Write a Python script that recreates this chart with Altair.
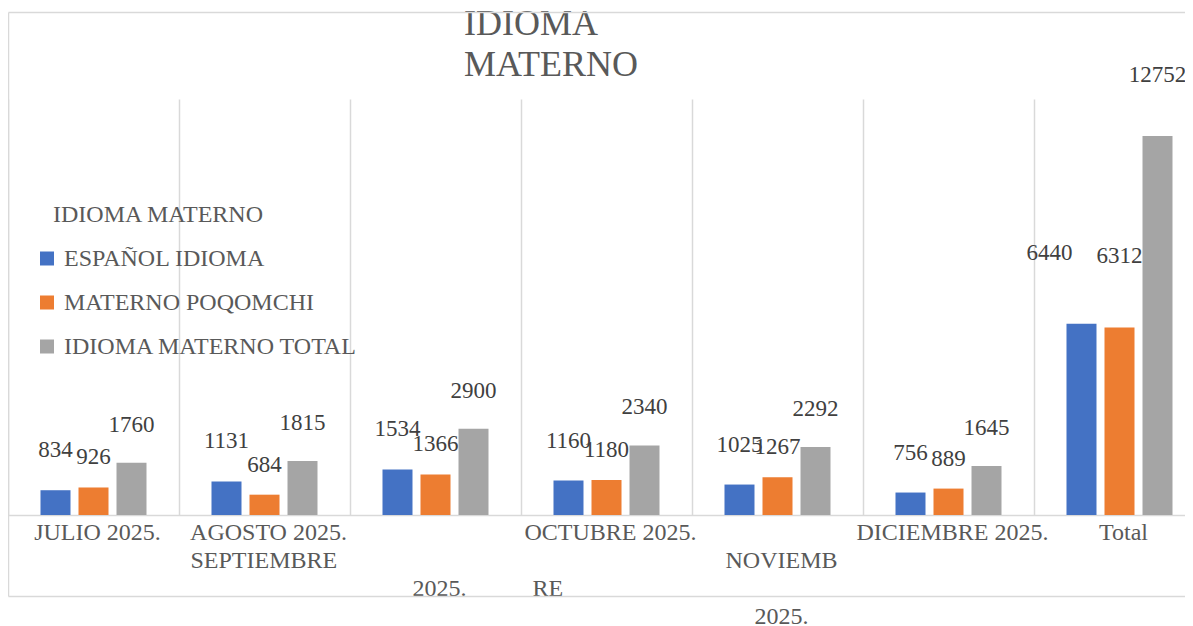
import altair as alt
import pandas as pd

# ---- data ----
categories = ["JULIO 2025.", "AGOSTO 2025.", "SEPTIEMBRE 2025.", "OCTUBRE 2025.",
              "NOVIEMBRE 2025.", "DICIEMBRE 2025.", "Total"]
series = ["ESPAÑOL IDIOMA", "MATERNO POQOMCHI", "IDIOMA MATERNO TOTAL"]
espanol = [834, 1131, 1534, 1160, 1025, 756, 6440]
poqomchi = [926, 684, 1366, 1180, 1267, 889, 6312]
total = [1760, 1815, 2900, 2340, 2292, 1645, 12752]
colors = ["#4472C4", "#ED7D31", "#A5A5A5"]

# category labels as they wrap in the original: fragment, its category, wrapped line, alignment
frag_category = ["JULIO 2025.", "AGOSTO 2025.", "AGOSTO 2025.", "SEPTIEMBRE 2025.",
                 "OCTUBRE 2025.", "OCTUBRE 2025.", "NOVIEMBRE 2025.", "NOVIEMBRE 2025.",
                 "DICIEMBRE 2025.", "Total"]
frag_text = ["JULIO 2025.", "AGOSTO 2025.", "SEPTIEMBRE", "2025.",
             "OCTUBRE 2025.", "RE", "NOVIEMB", "2025.",
             "DICIEMBRE 2025.", "Total"]
frag_line = [0, 0, 1, 2, 0, 2, 1, 3, 0, 0]
frag_align = ["center", "center", "left", "center", "center", "left", "center", "center",
              "center", "center"]

rows = []
for s, vals in zip(series, [espanol, poqomchi, total]):
    for c, v in zip(categories, vals):
        rows.append({"category": c, "serie": s, "value": v})
df = pd.DataFrame(rows)
frags = pd.DataFrame({"category": frag_category, "text": frag_text,
                      "line": frag_line, "align": frag_align})

FONT = "Liberation Serif"
W, H = 1177, 416          # visible plot area
XR = 1197                 # 7 bands of 171 px (the last one runs off the page, as in the original)

x = alt.X("category:N", sort=categories,
          scale=alt.Scale(range=[0, XR], paddingInner=0, paddingOuter=0),
          axis=alt.Axis(title=None, labels=False, ticks=False, grid=True, bandPosition=0,
                        gridColor="#d9d9d9", gridWidth=1.5,
                        domainColor="#d9d9d9", domainWidth=1.5))
xo = alt.XOffset("serie:N", sort=series,
                 scale=alt.Scale(paddingInner=0.2105, paddingOuter=0.855))
y = alt.Y("value:Q", scale=alt.Scale(domain=[0, 14000], nice=False), axis=None)

base = alt.Chart(df)

bars = base.mark_bar().encode(
    x=x, xOffset=xo, y=y,
    color=alt.Color("serie:N", sort=series,
                    scale=alt.Scale(domain=series, range=colors),
                    legend=alt.Legend(title=None, orient="none", legendX=27, legendY=147.5,
                                      symbolType="square", symbolSize=196,
                                      symbolStrokeWidth=0,
                                      labelFont=FONT, labelFontSize=24, labelColor="#595959",
                                      labelOffset=5, rowPadding=20, padding=0,
                                      labelLimit=400)),
)

lbl_style = dict(font=FONT, fontSize=23, color="#404040", baseline="alphabetic")
label_layers = []
# monthly labels (slightly staggered per series, as in the original)
for s, dy in zip(series, (-33, -23, -31)):
    label_layers.append(
        base.transform_filter(f"datum.category != 'Total' && datum.serie == '{s}'").mark_text(
            dy=dy, **lbl_style).encode(x=x, xOffset=xo, y=y, text="value:Q")
    )
# total labels
for s, dy, dx in zip(series, (-64, -64, -54), (-32, 0, 0)):
    label_layers.append(
        base.transform_filter(f"datum.category == 'Total' && datum.serie == '{s}'").mark_text(
            dy=dy, dx=dx, **lbl_style).encode(x=x, xOffset=xo, y=y, text="value:Q")
    )

fc = alt.Chart(frags)
xl = alt.X("category:N", sort=categories)
axis_layers = []
for ln in range(4):
    for al, dx in (("center", 4), ("left", -74)):
        axis_layers.append(
            fc.transform_filter(f"datum.line == {ln} && datum.align == '{al}'").mark_text(
                font=FONT, fontSize=24, color="#595959", baseline="top", align=al,
                dy=6 + 28 * ln, dx=dx).encode(x=xl, y=alt.value(H), text="text:N")
        )

one = alt.Chart(pd.DataFrame({"a": [0]}))
title_l1 = one.mark_text(font=FONT, fontSize=36, color="#595959", align="left",
                         baseline="alphabetic").encode(
    x=alt.value(456), y=alt.value(-64), text=alt.value("IDIOMA"))
title_l2 = one.mark_text(font=FONT, fontSize=36, color="#595959", align="left",
                         baseline="alphabetic").encode(
    x=alt.value(456), y=alt.value(-23), text=alt.value("MATERNO"))
leg_title = one.mark_text(font=FONT, fontSize=24, color="#595959", align="left",
                          baseline="middle").encode(
    x=alt.value(45), y=alt.value(116), text=alt.value("IDIOMA MATERNO"))

frame_style = dict(color="#d9d9d9", strokeWidth=1.5)
f_top = one.mark_rule(**frame_style).encode(x=alt.value(0.5), x2=alt.value(XR), y=alt.value(-86.5))
f_left = one.mark_rule(**frame_style).encode(x=alt.value(0.5), y=alt.value(-86.5), y2=alt.value(497.5))
f_bot = one.mark_rule(**frame_style).encode(x=alt.value(0.5), x2=alt.value(XR), y=alt.value(497.5))

chart = alt.layer(
    bars, *label_layers, *axis_layers,
    title_l1, title_l2, leg_title, f_top, f_left, f_bot
).properties(
    width=W, height=H,
    autosize=alt.AutoSizeParams(type="none"),
    padding={"left": 0, "top": 91, "right": 0, "bottom": 111},
    background="white",
).configure_view(stroke=None)

chart.save("out.html", embed_options={"renderer": "svg", "actions": False})
